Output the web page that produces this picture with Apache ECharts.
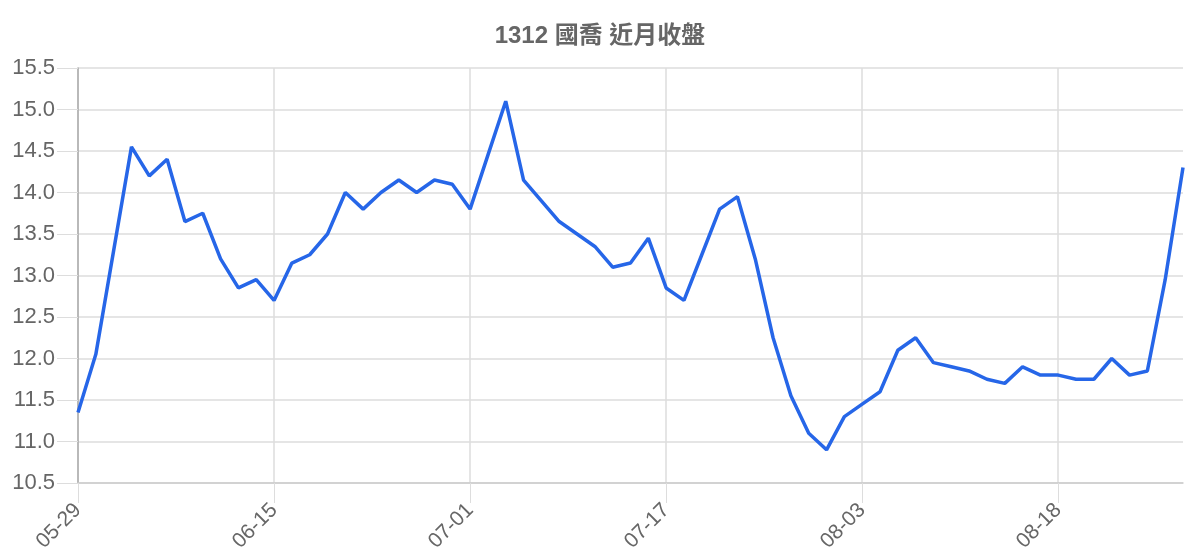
<!DOCTYPE html>
<html>
<head>
<meta charset="utf-8">
<script src="https://cdn.jsdelivr.net/npm/echarts@6/dist/echarts.min.js"></script>
<style>
html,body{margin:0;padding:0;background:#fff;}
#chart{width:1200px;height:560px;}
</style>
</head>
<body>
<div id="chart"></div>
<script>
const titleText = '1312 國喬 近月收盤';
const dates = [
  '05-29',
  '06-01','06-02','06-03','06-04','06-05',
  '06-08','06-09','06-10','06-11','06-12',
  '06-15','06-16','06-17','06-18','06-19',
  '06-20',
  '06-22','06-23','06-24',
  '06-29','06-30',
  '07-01','07-02','07-03',
  '07-06','07-07','07-08','07-10',
  '07-13','07-14','07-15','07-16','07-17',
  '07-20','07-21','07-22','07-23','07-24',
  '07-27','07-28','07-29','07-30','07-31',
  '08-03','08-04','08-05','08-06','08-07',
  '08-10','08-11','08-12','08-13','08-14',
  '08-17','08-18','08-19','08-20','08-21',
  '08-24','08-25','08-26','08-27'
];
const closes = [
  11.35, 12.05, 13.3, 14.55, 14.2, 14.4, 13.65, 13.75, 13.2, 12.85,
  12.95, 12.7, 13.15, 13.25, 13.5, 14.0, 13.8, 14.0, 14.15, 14.0,
  14.15, 14.1, 13.8, 14.45, 15.1, 14.15, 13.9, 13.65, 13.5, 13.35,
  13.1, 13.15, 13.45, 12.85, 12.7, 13.25, 13.8, 13.95, 13.2, 12.25,
  11.55, 11.1, 10.9, 11.3, 11.45, 11.6, 12.1, 12.25, 11.95, 11.9,
  11.85, 11.75, 11.7, 11.9, 11.8, 11.8, 11.75, 11.75, 12.0, 11.8,
  11.85, 12.95, 14.3
];
const yMin = 10.5, yMax = 15.5, yStep = 0.5;
const labelEvery = 10;

const font = '"Liberation Sans", Arial, "Noto Sans CJK TC", sans-serif';
const chart = echarts.init(document.getElementById('chart'), null, {renderer: 'canvas'});
chart.setOption({
  animation: false,
  backgroundColor: '#ffffff',
  title: {
    text: titleText,
    left: 'center',
    top: 19,
    textStyle: {
      fontFamily: font,
      fontSize: 24,
      fontWeight: 'bold',
      color: '#666666'
    }
  },
  grid: {left: 78, right: 17, top: 68, bottom: 77},
  xAxis: {
    type: 'category',
    data: dates,
    boundaryGap: false,
    axisLine: {show: true, lineStyle: {color: '#cccccc', width: 1.5}},
    axisTick: {show: true, length: 20, interval: labelEvery, lineStyle: {color: '#dddddd'}},
    axisLabel: {
      interval: labelEvery,
      rotate: 45,
      margin: 24,
      fontFamily: font,
      fontSize: 21,
      color: '#666666'
    },
    splitLine: {show: true, interval: labelEvery, lineStyle: {color: '#dddddd', width: 1.5}}
  },
  yAxis: {
    type: 'value',
    min: yMin,
    max: yMax,
    interval: yStep,
    axisLine: {show: true, lineStyle: {color: '#aaaaaa', width: 1.5}},
    axisTick: {show: true, length: 21, lineStyle: {color: '#dddddd'}},
    axisLabel: {
      margin: 23,
      fontFamily: font,
      fontSize: 22,
      color: '#666666',
      formatter: v => v.toFixed(1)
    },
    splitLine: {show: true, lineStyle: {color: '#dddddd', width: 1.5}}
  },
  series: [{
    type: 'line',
    data: closes,
    showSymbol: false,
    symbol: 'none',
    lineStyle: {color: '#2666e8', width: 3.5},
    itemStyle: {color: '#2666e8'}
  }]
});
</script>
</body>
</html>
